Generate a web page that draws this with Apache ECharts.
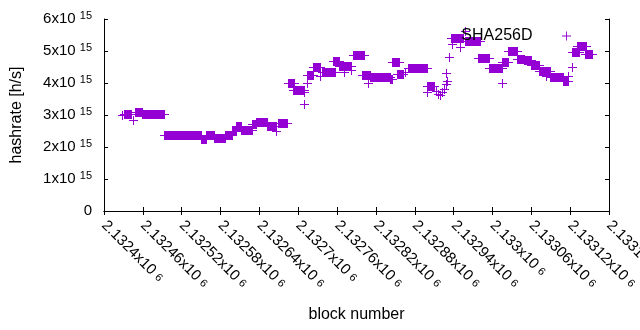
<!DOCTYPE html>
<html>
<head>
<meta charset="utf-8">
<title>hashrate</title>
<script src="https://cdn.jsdelivr.net/npm/echarts@6/dist/echarts.min.js"></script>
<style>
    html, body { margin: 0; padding: 0; background: #fff; }
    #main { width: 640px; height: 330px; }
</style>
</head>
<body>
<div id="main"></div>
<script>
// runs of equal hashrate: block range [from, to] and value (x10^15 h/s)
var blockFrom = [2132428, 2132432, 2132445, 2132449, 2132459, 2132494, 2132551, 2132558, 2132571, 2132588,
    2132599, 2132605, 2132613, 2132629, 2132636, 2132652, 2132667, 2132669, 2132685, 2132692,
    2132710, 2132714, 2132709, 2132715, 2132723, 2132735, 2132738, 2132755, 2132763, 2132772,
    2132783, 2132785, 2132800, 2132809, 2132811, 2132843, 2132846, 2132854, 2132865, 2132870,
    2132900, 2132900, 2132913, 2132917, 2132920, 2132923, 2132926, 2132929, 2132930, 2132929,
    2132933, 2132937, 2132939, 2132950, 2132959, 2132958, 2132979, 2132996, 2133015, 2133016,
    2133024, 2133039, 2133050, 2133061, 2133073, 2133084, 2133089, 2133109, 2133118, 2133123,
    2133123, 2133132, 2133143];
var blockTo = [2132428, 2132442, 2132445, 2132459, 2132494, 2132551, 2132558, 2132571, 2132587, 2132599,
    2132605, 2132613, 2132629, 2132636, 2132652, 2132667, 2132667, 2132684, 2132695, 2132709,
    2132710, 2132714, 2132709, 2132723, 2132734, 2132735, 2132757, 2132763, 2132783, 2132772,
    2132783, 2132803, 2132811, 2132809, 2132843, 2132846, 2132856, 2132862, 2132865, 2132900,
    2132900, 2132911, 2132913, 2132917, 2132920, 2132923, 2132926, 2132929, 2132930, 2132929,
    2132933, 2132955, 2132939, 2132950, 2132959, 2132981, 2132996, 2133015, 2133015, 2133024,
    2133039, 2133050, 2133061, 2133073, 2133089, 2133084, 2133109, 2133117, 2133118, 2133123,
    2133135, 2133146, 2133154];
var hashrate = [2.97, 3.00, 2.84, 3.09, 3.03, 2.375, 2.25, 2.37, 2.28, 2.35,
    2.47, 2.65, 2.53, 2.69, 2.78, 2.63, 2.47, 2.72, 3.97, 3.75,
    3.69, 4.00, 3.34, 4.25, 4.47, 4.19, 4.34, 4.66, 4.53, 4.34,
    4.38, 4.86, 4.22, 4.00, 4.16, 4.10, 4.63, 4.28, 4.34, 4.44,
    3.69, 3.90, 3.72, 3.65, 3.62, 3.70, 3.80, 3.95, 4.05, 4.30,
    4.80, 5.40, 5.19, 5.12, 5.60, 5.30, 4.77, 4.45, 4.00, 4.65,
    5.00, 4.72, 4.70, 4.55, 4.35, 4.20, 4.16, 4.05, 4.19, 4.47,
    4.94, 5.13, 4.90];

var blockMin = 2132400, blockMax = 2133180, blockStep = 60;
var rateMax = 6e15, rateStep = 1e15;

var purple = '#9400d3';
var font = 'Liberation Sans, Arial, sans-serif';
var crossIcon = 'path://M4.5,0h1v4.5h4.5v1h-4.5v4.5h-1v-4.5h-4.5v-1h4.5z';

var data = [];
for (var i = 0; i < hashrate.length; i++) {
    data.push([blockFrom[i], blockTo[i], hashrate[i] * 1e15]);
}

// gnuplot "+" points; a run of many points becomes a block with arms
function renderRun(params, api) {
    var p1 = api.coord([api.value(0), api.value(2)]);
    var p2 = api.coord([api.value(1), api.value(2)]);
    var a = Math.floor(p1[0]), b = Math.floor(p2[0]) + 1, y = Math.floor(p1[1]);
    return {
        type: 'polygon',
        shape: {
            points: [
                [a, y - 4], [b, y - 4], [b, y], [b + 4, y], [b + 4, y + 1], [b, y + 1],
                [b, y + 5], [a, y + 5], [a, y + 1], [a - 4, y + 1], [a - 4, y], [a, y]
            ]
        },
        style: { fill: purple },
        silent: true
    };
}

function supLabel(base, exp) {
    return '{m|' + base + 'x10} {s|' + exp + '}';
}

var myChart = echarts.init(document.getElementById('main'));
var axisLine = { show: true, lineStyle: { color: '#000', width: 1 } };
var axisTick = { show: true, inside: true, length: 4, lineStyle: { color: '#000', width: 1 } };

option = {
    animation: false,
    backgroundColor: '#fff',
    grid: { left: 104, right: 31, top: 19, bottom: 119, outerBoundsMode: 'none', containLabel: false },
    legend: {
        data: [{ name: 'SHA256D', icon: crossIcon }],
        right: 64,
        top: 23,
        align: 'right',
        itemWidth: 58,
        itemHeight: 9,
        selectedMode: false,
        textStyle: { fontFamily: font, fontSize: 16, color: '#000' }
    },
    xAxis: [
        {
            type: 'value',
            min: blockMin,
            max: blockMax,
            interval: blockStep,
            name: 'block number',
            nameLocation: 'middle',
            nameGap: 96,
            nameTextStyle: { fontFamily: font, fontSize: 16, color: '#000' },
            axisLine: axisLine,
            axisTick: axisTick,
            splitLine: { show: false },
            axisLabel: {
                rotate: -45,
                margin: 12,
                showMinLabel: true,
                showMaxLabel: true,
                hideOverlap: false,
                color: '#000',
                fontFamily: font,
                fontSize: 15,
                formatter: function (v) {
                    return supLabel(parseFloat((v / 1e6).toFixed(5)), 6);
                },
                rich: {
                    m: { fontFamily: font, fontSize: 15, color: '#000' },
                    s: { fontFamily: font, fontSize: 11, color: '#000' }
                }
            }
        },
        {
            type: 'value',
            position: 'top',
            min: blockMin,
            max: blockMax,
            interval: blockStep,
            axisLine: axisLine,
            axisTick: axisTick,
            axisLabel: { show: false },
            splitLine: { show: false }
        }
    ],
    yAxis: [
        {
            type: 'value',
            min: 0,
            max: rateMax,
            interval: rateStep,
            name: 'hashrate [h/s]',
            nameLocation: 'middle',
            nameGap: 79,
            nameTextStyle: { fontFamily: font, fontSize: 16, color: '#000' },
            axisLine: axisLine,
            axisTick: axisTick,
            splitLine: { show: false },
            axisLabel: {
                margin: 12,
                color: '#000',
                fontFamily: font,
                fontSize: 15,
                formatter: function (v) {
                    if (v === 0) return '{m|0}';
                    return supLabel(Math.round(v / 1e15), 15);
                },
                rich: {
                    m: { fontFamily: font, fontSize: 15, color: '#000', lineHeight: 18 },
                    s: { fontFamily: font, fontSize: 11, color: '#000', lineHeight: 10, verticalAlign: 'top' }
                }
            }
        },
        {
            type: 'value',
            position: 'right',
            min: 0,
            max: rateMax,
            interval: rateStep,
            axisLine: axisLine,
            axisTick: axisTick,
            axisLabel: { show: false },
            splitLine: { show: false }
        }
    ],
    series: [
        {
            name: 'SHA256D',
            type: 'custom',
            renderItem: renderRun,
            itemStyle: { color: purple },
            encode: { x: [0, 1], y: 2 },
            data: data
        }
    ]
};

myChart.setOption(option);
</script>
</body>
</html>
